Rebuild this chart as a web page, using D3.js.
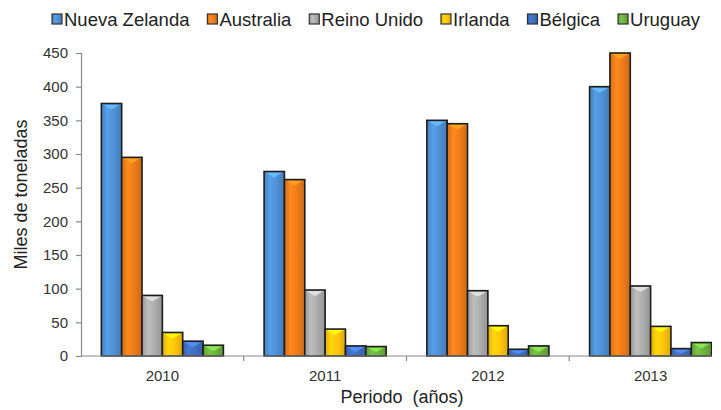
<!DOCTYPE html>
<html>
<head>
<meta charset="utf-8">
<script src="https://cdn.jsdelivr.net/npm/d3@7"></script>
<style>
  html, body { margin: 0; padding: 0; background: #fff; }
  svg { display: block; font-family: "Liberation Sans", Arial, sans-serif; }
</style>
</head>
<body>
<svg id="chart" width="721" height="410"></svg>
<script>
// Exportaciones de carne ovina por país (miles de toneladas)
const years = ["2010", "2011", "2012", "2013"];
const countries = ["Nueva Zelanda", "Australia", "Reino Unido", "Irlanda", "Bélgica", "Uruguay"];
const nuevaZelanda = [375, 274, 350, 400];
const australia    = [295, 262, 345, 450];
const reinoUnido   = [90, 98, 97, 104];
const irlanda      = [35, 40, 45, 44];
const belgica      = [22, 15, 10, 11];
const uruguay      = [16, 14, 15, 20];
const yTicks = [0, 50, 100, 150, 200, 250, 300, 350, 400, 450];
const colors = ["#4f91d6", "#f07d1a", "#aeaeae", "#ffc60a", "#3f6fc0", "#6db33f"];

const seriesValues = [nuevaZelanda, australia, reinoUnido, irlanda, belgica, uruguay];
const rows = years.map((yr, i) => ({
  year: yr,
  values: countries.map((c, j) => ({ country: c, idx: j, value: seriesValues[j][i] }))
}));

const svg = d3.select("#chart");
const plotLeft = 81, plotTop = 53, plotBottom = 356, plotRight = 732, visibleRight = 712;

const x0 = d3.scaleBand().domain(years).range([plotLeft, plotRight]).paddingInner(0).paddingOuter(0);
const x1 = d3.scaleBand().domain(countries).range([0, x0.bandwidth()]).paddingInner(0).paddingOuter(1);
const y = d3.scaleLinear().domain([0, 450]).range([plotBottom, plotTop]);

// Gradients for the bevelled bar faces
const defs = svg.append("defs");
colors.forEach((c, i) => {
  const g = defs.append("linearGradient").attr("id", "grad" + i)
    .attr("x1", "0%").attr("x2", "100%").attr("y1", "0%").attr("y2", "0%");
  const base = d3.color(c);
  g.append("stop").attr("offset", "0%").attr("stop-color", base.darker(0.35));
  g.append("stop").attr("offset", "30%").attr("stop-color", base.brighter(0.25));
  g.append("stop").attr("offset", "60%").attr("stop-color", base);
  g.append("stop").attr("offset", "100%").attr("stop-color", base.darker(0.45));
});
defs.append("clipPath").attr("id", "plotClip")
  .append("rect").attr("x", 0).attr("y", 0).attr("width", visibleRight).attr("height", 410);

const plot = svg.append("g").attr("clip-path", "url(#plotClip)");

// Bars
const groups = plot.selectAll("g.year").data(rows).join("g")
  .attr("class", "year")
  .attr("transform", d => `translate(${x0(d.year)},0)`);

groups.selectAll("g.bar").data(d => d.values).join("g").attr("class", "bar")
  .each(function (d) {
    const g = d3.select(this);
    const bx = x1(d.country), bw = x1.bandwidth();
    const by = y(d.value), bh = y(0) - y(d.value);
    g.append("rect")
      .attr("x", bx).attr("y", by).attr("width", bw).attr("height", bh)
      .attr("fill", `url(#grad${d.idx})`);
    // light bevel triangle on top of each bar
    const tri = Math.min(5, bh / 2);
    g.append("path")
      .attr("d", `M${bx + 1.5},${by + 1} L${bx + bw - 1.5},${by + 1} L${bx + bw / 2},${by + tri + 1} Z`)
      .attr("fill", d3.color(colors[d.idx]).brighter(0.8))
      .attr("opacity", 0.85);
    g.append("rect")
      .attr("x", bx).attr("y", by).attr("width", bw).attr("height", bh)
      .attr("fill", "none").attr("stroke", "#1e1e1e").attr("stroke-width", 1.6);
  });

// X axis
const xAxis = plot.append("g").attr("transform", `translate(0,${plotBottom})`);
xAxis.append("line").attr("x1", plotLeft).attr("x2", plotRight).attr("y1", 0).attr("y2", 0)
  .attr("stroke", "#8a8a8a").attr("stroke-width", 1.2);
xAxis.selectAll("line.tick").data(years.slice(1)).join("line").attr("class", "tick")
  .attr("x1", d => x0(d)).attr("x2", d => x0(d)).attr("y1", 0).attr("y2", 5)
  .attr("stroke", "#8a8a8a").attr("stroke-width", 1.2);
svg.append("g").selectAll("text").data(years).join("text")
  .attr("x", d => x0(d) + x0.bandwidth() / 2)
  .attr("y", 381)
  .attr("text-anchor", "middle")
  .attr("font-size", 15)
  .attr("fill", "#333")
  .text(d => d);

// Y axis
const yAxis = svg.append("g").attr("transform", `translate(${plotLeft},0)`)
  .call(d3.axisLeft(y).tickValues(yTicks).tickSize(5).tickPadding(8));
yAxis.select(".domain").attr("stroke", "#8a8a8a").attr("stroke-width", 1.2);
yAxis.selectAll(".tick line").attr("stroke", "#8a8a8a").attr("stroke-width", 1.2);
yAxis.selectAll(".tick text").attr("font-size", 15).attr("fill", "#333")
  .attr("font-family", "Liberation Sans, Arial, sans-serif");

// Axis titles
svg.append("text")
  .attr("transform", `translate(27,${(plotTop + plotBottom) / 2 - 10}) rotate(-90)`)
  .attr("text-anchor", "middle")
  .attr("font-size", 18).attr("fill", "#222")
  .text("Miles de toneladas");
svg.append("text")
  .attr("x", 402).attr("y", 403)
  .attr("text-anchor", "middle")
  .attr("font-size", 18).attr("fill", "#222")
  .attr("xml:space", "preserve")
  .text("Periodo  (años)");

// Legend: laid out across the top, spread between legendStart and legendEnd
const legendStart = 52, legendEnd = 700, swatch = 10, swatchGap = 2;
const legend = svg.append("g");
const items = countries.map((c, i) => {
  const item = legend.append("g");
  item.append("rect").attr("x", 0).attr("y", 14).attr("width", swatch).attr("height", swatch)
    .attr("fill", `url(#grad${i})`).attr("stroke", "#333").attr("stroke-width", 1.2);
  const t = item.append("text").attr("x", swatch + swatchGap).attr("y", 26)
    .attr("font-size", 18.5).attr("fill", "#222").text(c);
  return { item, w: swatch + swatchGap + t.node().getComputedTextLength() };
});
const totalW = d3.sum(items, d => d.w);
const gap = (legendEnd - legendStart - totalW) / (items.length - 1);
let lx = legendStart;
items.forEach(d => {
  d.item.attr("transform", `translate(${lx},0)`);
  lx += d.w + gap;
});
</script>
</body>
</html>
